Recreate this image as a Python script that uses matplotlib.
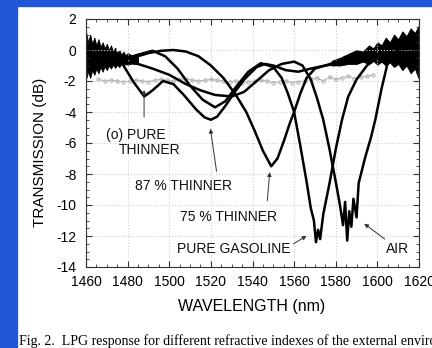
import matplotlib.pyplot as plt
from matplotlib.patches import Rectangle
from matplotlib.ticker import MultipleLocator

plt.rcParams['font.family'] = ['Liberation Sans', 'DejaVu Sans']
plt.rcParams['axes.unicode_minus'] = False

# (wavelength in nm, transmission in dB)
wl_87 = [1478, 1483, 1488, 1492, 1497, 1502, 1507, 1513, 1517, 1520, 1523, 1527,
         1531, 1536, 1542, 1546, 1550, 1556, 1562, 1568, 1575, 1582, 1590]
db_87 = [-1.0, -2.1, -3.0, -2.6, -2.0, -2.2, -2.9, -3.85, -4.35, -4.5, -4.3, -3.6,
         -2.8, -1.9, -1.1, -0.9, -1.0, -1.3, -1.4, -1.2, -1.0, -0.7, -0.4]

wl_75 = [1478, 1485, 1490, 1496, 1502, 1508, 1514, 1520, 1526, 1532, 1537, 1541,
         1545, 1549, 1552, 1555, 1558, 1560, 1563, 1566, 1570, 1575, 1580, 1586,
         1592, 1600]
db_75 = [-0.5, -0.4, -0.2, -0.05, 0.0, -0.1, -0.4, -1.0, -1.8, -2.9, -4.0, -5.2,
         -6.5, -7.5, -7.0, -5.9, -4.7, -4.0, -2.8, -1.8, -1.2, -1.0, -0.9, -0.7,
         -0.5, -0.3]

wl_gas = [1478, 1485, 1492, 1498, 1504, 1510, 1516, 1522, 1527, 1532, 1538, 1544,
          1550, 1554, 1557, 1560, 1563, 1566, 1568, 1569.5, 1570.5, 1571.5, 1572.5,
          1574, 1577, 1580, 1583, 1586, 1590, 1595, 1600]
db_gas = [-0.6, -0.3, -0.05, -0.4, -1.2, -2.3, -3.2, -3.7, -3.3, -2.4, -1.4, -0.85,
          -1.1, -1.8, -2.8, -4.0, -6.2, -8.5, -10.2, -11.0, -12.4, -11.6, -12.2,
          -10.6, -8.6, -6.4, -4.5, -3.0, -1.9, -1.0, -0.5]

wl_air = [1478, 1485, 1492, 1500, 1508, 1515, 1522, 1530, 1536, 1542, 1548, 1554,
          1560, 1564, 1568, 1571, 1574, 1577, 1580, 1582, 1583.5, 1584.5, 1585.5,
          1586.5, 1587.5, 1588.5, 1590, 1591, 1594, 1597, 1599, 1602, 1605, 1610,
          1615, 1620]
db_air = [-0.8, -0.9, -1.2, -1.6, -2.2, -2.6, -2.9, -3.0, -2.7, -2.0, -1.3, -0.9,
          -0.75, -1.0, -1.9, -3.1, -4.5, -6.4, -8.5, -10.0, -11.3, -9.8, -12.3,
          -10.4, -11.4, -9.6, -10.8, -8.6, -7.0, -5.6, -4.5, -2.5, -0.8, 0.0,
          0.4, 0.8]

wl_thin = [1466, 1469, 1472, 1475, 1478, 1481, 1484, 1487, 1490, 1493, 1496, 1499,
           1502, 1505, 1508, 1511, 1514, 1517, 1520, 1523, 1526, 1529, 1532, 1535,
           1538, 1541, 1544, 1547, 1550, 1553, 1556, 1559, 1562, 1565, 1568, 1571,
           1574, 1577, 1580, 1583, 1586, 1589, 1592, 1595, 1598]
db_thin = [-1.9, -2.0, -1.95, -2.0, -2.05, -2.0, -1.95, -2.0, -2.05, -1.95, -1.9, -1.95,
           -2.0, -1.9, -1.85, -1.95, -2.0, -1.95, -1.9, -1.95, -2.0, -2.05, -2.0, -2.1,
           -2.05, -2.0, -1.95, -2.0, -2.1, -2.05, -2.0, -2.1, -2.05, -2.0, -1.9, -1.8,
           -2.0, -1.75, -1.9, -1.8, -1.7, -1.85, -1.75, -1.7, -1.6]

# noisy envelopes at both ends of the spectrum
wl_noise_l = [1460, 1461, 1462, 1463, 1464, 1465, 1466, 1467, 1468, 1469, 1470, 1471,
              1472, 1473, 1474, 1475, 1476, 1477, 1478, 1479, 1480, 1482, 1485]
hi_noise_l = [1.2, 0.5, 1.0, 0.4, 0.8, 0.3, 0.7, 0.2, 0.5, 0.1, 0.4, 0.0,
              0.3, -0.1, 0.15, -0.2, 0.0, -0.3, -0.1, -0.35, -0.2, -0.35, -0.45]
lo_noise_l = [-1.9, -1.4, -1.8, -1.3, -1.6, -1.2, -1.5, -1.1, -1.4, -1.05, -1.3, -1.0,
              -1.2, -0.95, -1.15, -0.95, -1.1, -0.9, -1.0, -0.9, -0.95, -0.85, -0.8]

wl_noise_r = [1578, 1582, 1586, 1590, 1593, 1596, 1598, 1600, 1602, 1604, 1606, 1608,
              1610, 1612, 1614, 1616, 1618, 1620]
hi_noise_r = [-0.7, -0.5, -0.25, 0.0, -0.1, 0.3, 0.1, 0.5, 0.3, 0.8, 0.5, 1.0,
              0.7, 1.2, 0.9, 1.4, 1.1, 1.6]
lo_noise_r = [-1.0, -1.0, -0.9, -0.9, -0.75, -0.9, -0.7, -0.95, -0.75, -1.0, -0.8, -1.1,
              -0.9, -1.3, -1.0, -1.5, -1.2, -1.9]

fig = plt.figure(figsize=(4.32, 3.48), dpi=100)
fig.patch.set_facecolor("white")
blue = "#2258d8"
fig.patches.append(Rectangle((0, 0), 17 / 432, 1, transform=fig.transFigure,
                             color=blue, zorder=0))
fig.patches.append(Rectangle((0, 1 - 6 / 348), 1, 6 / 348, transform=fig.transFigure,
                             color=blue, zorder=0))

ax = fig.add_axes([86 / 432, 1 - 267 / 348, 333 / 432, 248 / 348])

ax.plot(wl_thin, db_thin, color="#b8b8b8", lw=0.8, marker="o", ms=2.4,
        mfc="none", mec="#b0b0b0", mew=0.7)
ax.fill_between(wl_noise_l, lo_noise_l, hi_noise_l, color="black", lw=0.6)
ax.fill_between(wl_noise_r, lo_noise_r, hi_noise_r, color="black", lw=0.6)
for w, d in [(wl_87, db_87), (wl_75, db_75), (wl_gas, db_gas), (wl_air, db_air)]:
    ax.plot(w, d, color="black", lw=1.8)

ax.set_xlim(1460, 1620)
ax.set_ylim(-14, 2)
ax.xaxis.set_major_locator(MultipleLocator(20))
ax.xaxis.set_minor_locator(MultipleLocator(5))
ax.yaxis.set_major_locator(MultipleLocator(2))
ax.yaxis.set_minor_locator(MultipleLocator(0.5))
ax.tick_params(which="both", direction="in", top=True, right=True, color="#333333")
ax.tick_params(which="major", length=4, labelsize=10)
ax.tick_params(axis="x", which="major", pad=6)
ax.tick_params(axis="y", which="major", pad=7)
ax.tick_params(which="minor", length=2)
ax.grid(True, which="major", color="#d0d0d0", ls=":", lw=0.8)
for s in ax.spines.values():
    s.set_color("#333333")

fig.text(252 / 432, 1 - 306 / 348, "WAVELENGTH (nm)", ha="center", va="center",
         fontsize=11.5)
fig.text(40 / 432, 1 - 152 / 348, "TRANSMISSION (dB)", rotation=90,
         ha="center", va="center", fontsize=11)

txt = dict(fontsize=10, color="#111111")
arw = dict(arrowstyle="-|>", color="#333333", lw=0.7, mutation_scale=6)
ax.text(1469.6, -5.46, "(o) PURE", va="center", **txt)
ax.text(1475.9, -6.42, "THINNER", va="center", **txt)
ax.annotate("", xy=(1487.9, -2.4), xytext=(1487.9, -4.5), arrowprops=arw)
ax.text(1507.0, -8.8, "87 % THINNER", ha="center", va="center", **txt)
ax.annotate("", xy=(1519.6, -4.9), xytext=(1522.9, -8.0), arrowprops=arw)
ax.text(1528.5, -10.8, "75 % THINNER", ha="center", va="center", **txt)
ax.annotate("", xy=(1548.4, -7.7), xytext=(1547.0, -9.9), arrowprops=arw)
ax.text(1530.9, -12.85, "PURE GASOLINE", ha="center", va="center", **txt)
ax.annotate("", xy=(1567.1, -11.9), xytext=(1558.5, -12.6), arrowprops=arw)
ax.text(1609.7, -12.85, "AIR", ha="center", va="center", **txt)
ax.annotate("", xy=(1592.6, -11.1), xytext=(1604.6, -12.3), arrowprops=arw)

fig.text(19 / 432, 1 - 341 / 348,
         "Fig. 2.  LPG response for different refractive indexes of the external environment.",
         fontsize=10, family="Liberation Serif", va="center")

fig.savefig("out.png", dpi=100)
